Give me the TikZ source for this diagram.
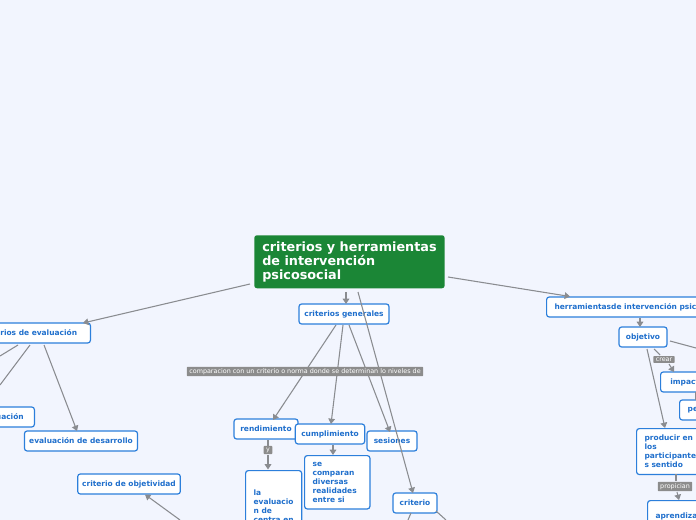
\documentclass[tikz,border=0pt]{standalone}
\usepackage{fontspec}
\setmainfont{DejaVu Sans}
\usetikzlibrary{arrows.meta}
\definecolor{bg}{HTML}{F2F5FE}
\definecolor{bd}{HTML}{2C7FDB}
\definecolor{tx}{HTML}{1F6FCC}
\definecolor{rootc}{HTML}{1B8636}
\definecolor{eg}{HTML}{8A8C90}
\definecolor{lb}{HTML}{8C8C8C}
\begin{document}
\begin{tikzpicture}[x=0.75pt,y=-0.75pt,
 box/.style={draw=bd,line width=0.9pt,rounded corners=2pt,fill=white,text=tx,font=\fontsize{5.6}{6.7}\selectfont\bfseries,inner sep=0pt,minimum height=15pt},
 tbox/.style={box,align=left,anchor=north west,inner xsep=6pt,inner ysep=5pt},
 lab/.style={fill=lb,text=white,font=\fontsize{4.8}{5}\selectfont,inner xsep=1.8pt,inner ysep=1.2pt,rounded corners=0.5pt},
 edge/.style={draw=eg,line width=0.8pt},
 arr/.style={edge,-{Triangle[width=5pt,length=4pt]}}]
\fill[bg] (0,0) rectangle (696,520);
\useasboundingbox (0,0) rectangle (696,520);
% root
\node[fill=rootc,rounded corners=2pt,text=white,font=\fontsize{9.6}{10.6}\selectfont\bfseries,align=left,anchor=north west,minimum width=142.5pt,minimum height=39.75pt,inner xsep=6pt,inner ysep=3pt] (root) at (254,235) {criterios y herramientas\\de intervención\\psicosocial};
% main level
\node[box,minimum width=67.5pt] (cg) at (344,314) {criterios generales};
\node[box,minimum width=92pt,anchor=east] (ce) at (91,333) {criterios de evaluación};
\node[box,minimum width=120pt,anchor=west,inner xsep=6pt] (hi) at (546,307) {herramientasde intervención psicosocial};
% criterios generales children
\node[box,minimum width=48pt] (ren) at (266,429) {rendimiento};
\node[box,minimum width=52pt] (cum) at (330,434) {cumplimiento};
\node[box,minimum width=37.5pt] (ses) at (392,441) {sesiones};
\node[box,minimum width=33pt] (cri) at (415,503) {criterio};
\node[box,align=left,anchor=north west,inner xsep=6pt,inner ysep=5pt,minimum width=40pt,minimum height=60pt] (lae) at (245,470) {la\\evaluacio\\n de\\centra en\\su};
\node[tbox,text width=37pt] (sec) at (304,455) {se\\comparan\\diversas\\realidades\\entre si};
% evaluacion children
\node[box,minimum width=50pt,anchor=east] (ev) at (35,417) {evaluación};
\node[box,minimum width=84.75pt] (ed) at (81,441) {evaluación de desarrollo};
\node[box,minimum width=77pt] (co) at (129,484) {criterio de objetividad};
% right side
\node[box,minimum width=36pt] (obj) at (643,337) {objetivo};
\node[box,minimum width=40pt,anchor=west,inner xsep=6pt] (imp) at (660,382) {impacto};
\node[box,minimum width=20pt,anchor=west,inner xsep=6pt] (pe) at (679,410) {pe};
\node[tbox,text width=42pt] (pro) at (636,428) {producir en\\los\\participante\\s sentido};
\node[tbox,text width=48pt,minimum height=30pt] (apr) at (647,500) {aprendizaje\\significativo};
% coordinates
\coordinate (l1) at (0,356);
\coordinate (l2) at (0,385);
\coordinate (s1) at (180,520);
\coordinate (b1) at (408,520);
\coordinate (b2) at (446,520);
\coordinate (r1) at (696,348);
% edges
\draw[arr] (250,284) -- (83,323);
\draw[arr] (346,292) -- (346,304);
\draw[arr] (358,292) -- (413,493);
\draw[arr] (448,277) -- (570,296.5);
\draw[arr] (336,325) -- (273,420);
\draw[arr] (343,325) -- (331,424);
\draw[arr] (349,325) -- (390,432);
\node[lab] (cl) at (305,371.5) {comparacion con un criterio o norma donde se determinan lo niveles de};
\draw[edge] (268,440) -- (268,446);
\node[lab] (y) at (268,450) {y};
\draw[arr] (268,455) -- (268,469.5);
\draw[arr] (333,445) -- (333,455);
\draw[edge] (18,345) -- (l1);
\draw[edge] (30,345) -- (l2);
\draw[arr] (44,345) -- (77,431);
\draw[arr] (s1) -- (145,494.5);
\draw[edge] (411,513) -- (b1);
\draw[edge] (436,511) -- (b2);
\draw[arr] (640,318) -- (640,327);
\draw[edge] (670,341) -- (r1);
\draw[edge] (654,349) -- (660,355);
\node[lab] (cr) at (664,359.5) {crear};
\draw[arr] (669,364) -- (674,372);
\draw[edge] (696,392) -- (696,400);
\draw[arr] (647,349) -- (665,428);
\draw[edge] (676,474) -- (676,481);
\node[lab] (pp) at (675,486.5) {propician};
\draw[arr] (677,492) -- (679,500);
\end{tikzpicture}
\end{document}
